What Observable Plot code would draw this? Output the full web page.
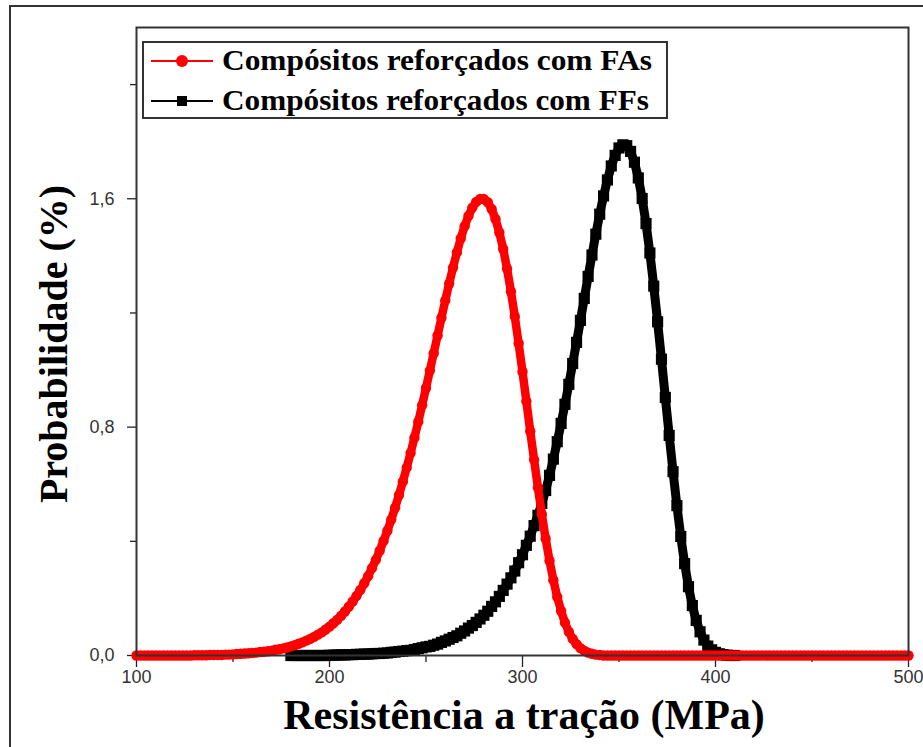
<!DOCTYPE html>
<html>
<head>
<meta charset="utf-8">
<script src="https://cdn.jsdelivr.net/npm/d3@7"></script>
<script src="https://cdn.jsdelivr.net/npm/@observablehq/plot@0.6"></script>
<style>
  body { margin: 0; background: #fff; }
  #chart { position: relative; width: 923px; height: 747px; overflow: hidden; }
  #chart svg { display: block; }
</style>
</head>
<body>
<div id="chart"></div>
<script>
// Abscissa grids (MPa), sampled every 2 MPa
const resistenciaFA = d3.range(100, 501, 2);
const resistenciaFF = d3.range(180, 411, 2);

// Probabilidade (%) — Compósitos reforçados com FAs (red)
const probabilidadeFA = [
  0,0,0,0,0,0,0,0,0,0,0,0,0,0,0,
  0.001,0.001,0.001,0.001,0.002,0.002,0.002,0.002,0.003,0.003,
  0.004,0.005,0.006,0.007,0.008,0.009,0.010,0.012,0.013,0.015,
  0.017,0.020,0.022,0.025,0.028,0.032,0.036,0.041,0.046,0.052,
  0.058,0.065,0.073,0.081,0.091,0.101,0.113,0.125,0.139,0.154,
  0.171,0.189,0.209,0.230,0.253,0.278,0.306,0.335,0.367,0.401,
  0.437,0.476,0.518,0.562,0.609,0.658,0.709,0.763,0.819,0.877,
  0.937,0.998,1.059,1.121,1.183,1.244,1.303,1.359,1.412,1.461,
  1.504,1.540,1.569,1.589,1.599,1.599,1.588,1.564,1.529,1.482,
  1.424,1.355,1.275,1.188,1.093,0.994,0.891,0.786,0.686,0.588,
  0.495,0.409,0.332,0.264,0.205,0.156,0.115,0.083,0.058,0.040,
  0.026,0.017,0.010,0.006,0.003,0.002,
  0,0,0,0,0,0,0,0,0,0,0,0,0,0,0,0,0,0,0,0,
  0,0,0,0,0,0,0,0,0,0,0,0,0,0,0,0,0,0,0,0,
  0,0,0,0,0,0,0,0,0,0,0,0,0,0,0,0,0,0,0,0,
  0,0,0,0,0,0,0,0,0,0,0,0,0,0,0,0,0,0,0,0
];

// Probabilidade (%) — Compósitos reforçados com FFs (black)
const probabilidadeFF = [
  0,0,0,0,0,0,0,0,0,0,
  0.001,0.001,0.002,0.002,0.002,0.003,0.003,0.004,0.004,0.005,
  0.005,0.006,0.007,0.007,0.008,0.009,0.011,0.012,0.014,0.015,
  0.017,0.018,0.021,0.024,0.027,0.030,0.032,0.036,0.040,0.046,
  0.051,0.057,0.063,0.069,0.078,0.086,0.096,0.105,0.116,0.128,
  0.141,0.155,0.172,0.188,0.207,0.228,0.250,0.272,0.296,0.325,
  0.353,0.386,0.418,0.455,0.491,0.533,0.578,0.631,0.688,0.749,
  0.813,0.880,0.950,1.023,1.097,1.174,1.251,1.328,1.403,1.476,
  1.546,1.610,1.666,1.715,1.752,1.778,1.789,1.786,1.766,1.728,
  1.673,1.601,1.513,1.410,1.294,1.169,1.038,0.904,0.771,0.644,
  0.525,0.417,0.322,0.241,0.175,0.123,0.083,0.054,0.033,0.020,
  0.011,0.006,0.003,0.001,0,0
];

const xTicks = [100, 200, 300, 400, 500];
const xMinorTicks = [150, 250, 350, 450];
const yTicks = [0, 0.8, 1.6];
const yMinorTicks = [0.4, 1.2, 2.0];
const seriesNames = ["Compósitos reforçados com FAs", "Compósitos reforçados com FFs"];
const seriesColors = ["#ff0000", "#000000"];
const xTitle = "Resistência a tração (MPa)";
const yTitle = "Probabilidade (%)";

const fa = resistenciaFA.map((x, i) => ({x, y: probabilidadeFA[i]}));
const ff = resistenciaFF.map((x, i) => ({x, y: probabilidadeFF[i]}));
const fmtY = d => d.toFixed(1).replace(".", ",");

const W = 923, H = 747;
const chart = Plot.plot({
  width: W, height: H,
  marginLeft: 136, marginTop: 27, marginRight: 15, marginBottom: 92,
  x: {domain: [100, 500]},
  y: {domain: [0, 2.2]},
  style: {fontFamily: "'Liberation Sans', Arial, sans-serif", background: "#fff", color: "#222"},
  marks: [
    Plot.axisX(xTicks, {tickSize: 12, tickPadding: 3, fontSize: 18, tickFormat: d => String(d), label: null, stroke: "#222", strokeWidth: 1.3, fill: "#333"}),
    Plot.axisX(xMinorTicks, {tickSize: 7, fill: "none", label: null, stroke: "#222", strokeWidth: 1.3}),
    Plot.axisY(yTicks, {tickSize: 9, tickPadding: 13, fontSize: 18, tickFormat: fmtY, label: null, stroke: "#222", strokeWidth: 1.3, fill: "#333"}),
    Plot.axisY(yMinorTicks, {tickSize: 6, fill: "none", label: null, stroke: "#222", strokeWidth: 1.3}),
    Plot.line(ff, {x: "x", y: "y", stroke: seriesColors[1], strokeWidth: 9, strokeLinejoin: "round"}),
    Plot.dot(ff, {x: "x", y: "y", symbol: "square", r: 6.3, fill: seriesColors[1], stroke: "none"}),
    Plot.line(fa, {x: "x", y: "y", stroke: seriesColors[0], strokeWidth: 8.5, strokeLinejoin: "round"}),
    Plot.dot(fa, {x: "x", y: "y", symbol: "circle", r: 5.2, fill: seriesColors[0], stroke: "none"}),
    Plot.frame({stroke: "#333", strokeWidth: 2})
  ]
});
document.getElementById("chart").appendChild(chart);

const svg = d3.select(chart);
const serif = "'Liberation Serif', 'Times New Roman', serif";

// outer frame (left/top edges visible)
svg.append("rect").attr("x", 10).attr("y", 6).attr("width", 1200).attr("height", 1200)
  .attr("fill", "none").attr("stroke", "#333").attr("stroke-width", 2);

// axis titles
svg.append("text").attr("x", 524).attr("y", 729).attr("text-anchor", "middle")
  .attr("font-family", serif).attr("font-weight", "bold").attr("font-size", 42).attr("fill", "#000")
  .text(xTitle);
svg.append("text").attr("transform", "translate(67,344) rotate(-90)").attr("text-anchor", "middle")
  .attr("font-family", serif).attr("font-weight", "bold").attr("font-size", 40).attr("fill", "#000")
  .text(yTitle);

// legend
const lg = svg.append("g").attr("text-anchor", "start");
lg.append("rect").attr("x", 143).attr("y", 42).attr("width", 524).attr("height", 76)
  .attr("fill", "#fff").attr("stroke", "#333").attr("stroke-width", 2);
const rows = [61, 101];
const legendTextWidths = [430, 427];
seriesNames.forEach((name, i) => {
  const cy = rows[i];
  lg.append("line").attr("x1", 151).attr("x2", 213).attr("y1", cy).attr("y2", cy)
    .attr("stroke", seriesColors[i]).attr("stroke-width", 2);
  if (i === 0) {
    lg.append("circle").attr("cx", 182).attr("cy", cy).attr("r", 6).attr("fill", seriesColors[i]);
  } else {
    lg.append("rect").attr("x", 177).attr("y", cy - 5).attr("width", 10).attr("height", 10).attr("fill", seriesColors[i]);
  }
  lg.append("text").attr("x", 222).attr("y", cy + 9).attr("text-anchor", "start")
    .attr("font-family", serif).attr("font-weight", "bold").attr("font-size", 29.5).attr("fill", "#000")
    .attr("textLength", legendTextWidths[i]).attr("lengthAdjust", "spacingAndGlyphs")
    .text(name);
});
</script>
</body>
</html>
